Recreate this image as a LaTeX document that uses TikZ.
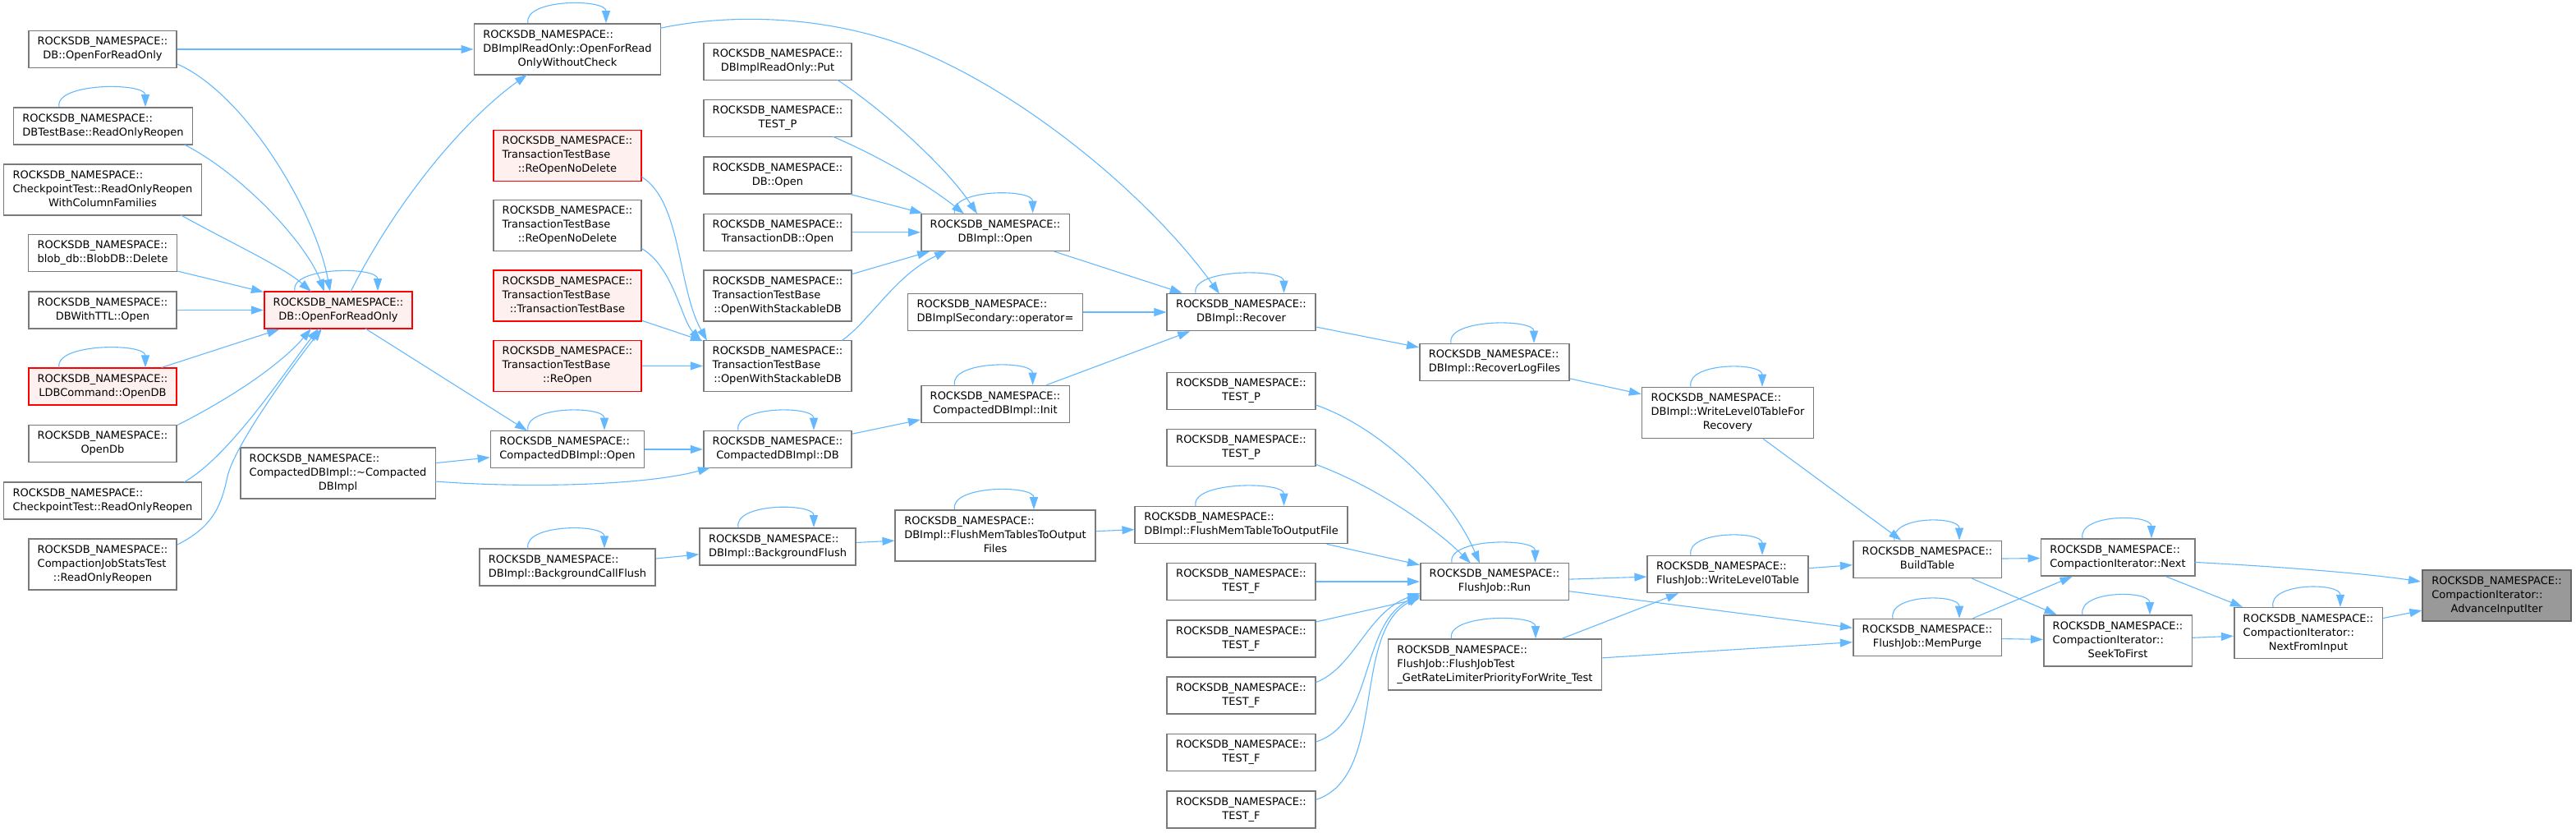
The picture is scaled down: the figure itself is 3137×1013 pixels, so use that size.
\documentclass[tikz,border=0pt]{standalone}
\usepackage{fontspec}
\setmainfont{DejaVu Sans}
\usetikzlibrary{arrows.meta}
\definecolor{edgeblue}{HTML}{63B8FF}
\definecolor{nodegray}{HTML}{7A7A7A}
\definecolor{redfill}{HTML}{FFF0F0}
\definecolor{focusfill}{HTML}{999999}
\definecolor{focusline}{HTML}{666666}
\newcommand\RN{ROCKSDB\_NAMESPACE::}
\newcommand\lbl[2]{\begin{tabular}{@{}l@{}}#1\\\multicolumn{1}{@{}c@{}}{#2}\end{tabular}}
\newcommand\selfloop[3]{\draw[conn] ([xshift=#2pt]#1.north) .. controls +(-6,-30) and +(0,-30) .. ([xshift=#3pt]#1.north);}
\begin{document}
\begin{tikzpicture}[x=1pt,y=-1pt,
  nbox/.style={draw=nodegray, line width=1.6pt, fill=white, inner xsep=11pt, inner ysep=5.5pt,
    font=\fontsize{13}{17}\selectfont},
  redbox/.style={nbox, draw=red, fill=redfill},
  focusbox/.style={nbox, draw=focusline, fill=focusfill},
  conn/.style={draw=edgeblue, line width=1.1pt, -{Triangle[length=15pt,width=10pt]}}]
\useasboundingbox (0,0) rectangle (3137,1013);

% column 0
\node[nbox] (a1) at (125,60) {\lbl{\RN}{DB::OpenForReadOnly}};
\node[nbox] (a2) at (125.5,153.5) {\lbl{\RN}{DBTestBase::ReadOnlyReopen}};
\node[nbox] (a3) at (125,230.7) {\lbl{\RN\\CheckpointTest::ReadOnlyReopen}{WithColumnFamilies}};
\node[nbox] (a4) at (125,308) {\lbl{\RN}{blob\_db::BlobDB::Delete}};
\node[nbox] (a5) at (125,377.5) {\lbl{\RN}{DBWithTTL::Open}};
\node[redbox] (a6) at (125,470.7) {\lbl{\RN}{LDBCommand::OpenDB}};
\node[nbox] (a7) at (125,540) {\lbl{\RN}{OpenDb}};
\node[nbox] (a8) at (125,609.5) {\lbl{\RN}{CheckpointTest::ReadOnlyReopen}};
\node[nbox] (a9) at (125,686.7) {\lbl{\RN\\CompactionJobStatsTest}{::ReadOnlyReopen}};
% column 1
\node[redbox] (b1) at (412,377.5) {\lbl{\RN}{DB::OpenForReadOnly}};
\node[nbox] (b2) at (411.6,576) {\lbl{\RN\\CompactedDBImpl::\textasciitilde Compacted}{DBImpl}};
% column 2
\node[nbox] (c1) at (691,60) {\lbl{\RN\\DBImplReadOnly::OpenForRead}{OnlyWithoutCheck}};
\node[redbox] (c2) at (691,189.3) {\lbl{\RN\\TransactionTestBase}{::ReOpenNoDelete}};
\node[nbox] (c3) at (691,274.5) {\lbl{\RN\\TransactionTestBase}{::ReOpenNoDelete}};
\node[redbox] (c4) at (691,360) {\lbl{\RN\\TransactionTestBase}{::TransactionTestBase}};
\node[redbox] (c5) at (691,445.3) {\lbl{\RN\\TransactionTestBase}{::ReOpen}};
\node[nbox] (c6) at (691,547) {\lbl{\RN}{CompactedDBImpl::Open}};
\node[nbox] (c7) at (691,690.7) {\lbl{\RN}{DBImpl::BackgroundCallFlush}};
% column 3
\node[nbox] (d1) at (947,74.8) {\lbl{\RN}{DBImplReadOnly::Put}};
\node[nbox] (d2) at (947,144) {\lbl{\RN}{TEST\_P}};
\node[nbox] (d3) at (947,213.3) {\lbl{\RN}{DB::Open}};
\node[nbox] (d4) at (947,282.8) {\lbl{\RN}{TransactionDB::Open}};
\node[nbox] (d5) at (947,360) {\lbl{\RN\\TransactionTestBase}{::OpenWithStackableDB}};
\node[nbox] (d6) at (947,445.5) {\lbl{\RN\\TransactionTestBase}{::OpenWithStackableDB}};
\node[nbox] (d7) at (947,547) {\lbl{\RN}{CompactedDBImpl::DB}};
\node[nbox] (d8) at (947,665.3) {\lbl{\RN}{DBImpl::BackgroundFlush}};
% column 4
\node[nbox] (e1) at (1212,282.8) {\lbl{\RN}{DBImpl::Open}};
\node[nbox] (e2) at (1212,380) {\lbl{\RN}{DBImplSecondary::operator=}};
\node[nbox] (e3) at (1212,492) {\lbl{\RN}{CompactedDBImpl::Init}};
\node[nbox] (e4) at (1212,652) {\lbl{\RN\\DBImpl::FlushMemTablesToOutput}{Files}};
% column 5
\node[nbox] (f1) at (1511.5,380) {\lbl{\RN}{DBImpl::Recover}};
\node[nbox] (f2) at (1511.5,476) {\lbl{\RN}{TEST\_P}};
\node[nbox] (f3) at (1511.5,545) {\lbl{\RN}{TEST\_P}};
\node[nbox] (f4) at (1511.5,639) {\lbl{\RN}{DBImpl::FlushMemTableToOutputFile}};
\node[nbox] (f5) at (1511.5,708) {\lbl{\RN}{TEST\_F}};
\node[nbox] (f6) at (1511.5,777.5) {\lbl{\RN}{TEST\_F}};
\node[nbox] (f7) at (1511.5,846.7) {\lbl{\RN}{TEST\_F}};
\node[nbox] (f8) at (1511.5,916) {\lbl{\RN}{TEST\_F}};
\node[nbox] (f9) at (1511.5,985.5) {\lbl{\RN}{TEST\_F}};
% column 6
\node[nbox] (g1) at (1820,441) {\lbl{\RN}{DBImpl::RecoverLogFiles}};
\node[nbox] (g2) at (1820,708) {\lbl{\RN}{FlushJob::Run}};
\node[nbox] (g3) at (1820.5,809) {\lbl{\RN\\FlushJob::FlushJobTest}{\_GetRateLimiterPriorityForWrite\_Test}};
% column 7
\node[nbox] (h1) at (2104,502.5) {\lbl{\RN\\DBImpl::WriteLevel0TableFor}{Recovery}};
\node[nbox] (h2) at (2104,699) {\lbl{\RN}{FlushJob::WriteLevel0Table}};
% column 8
\node[nbox] (i1) at (2347,681) {\lbl{\RN}{BuildTable}};
\node[nbox] (i2) at (2347,776) {\lbl{\RN}{FlushJob::MemPurge}};
% column 9
\node[nbox] (j1) at (2579,678.5) {\lbl{\RN}{CompactionIterator::Next}};
\node[nbox] (j2) at (2579,780) {\lbl{\RN\\CompactionIterator::}{SeekToFirst}};
% column 10, 11
\node[nbox] (k1) at (2811,770.6) {\lbl{\RN\\CompactionIterator::}{NextFromInput}};
\node[focusbox] (l1) at (3040.5,725) {\lbl{\RN\\CompactionIterator::}{AdvanceInputIter}};

% edges into DB::OpenForReadOnly (red)
\draw[conn] (a1) -- (c1);
\draw[conn] ([shift={(91,18)}]a1.center) .. controls (300,115) and (385,260) .. ([shift={(-10,-22.5)}]b1.center);
\draw[conn] ([shift={(99,22.5)}]a2.center) .. controls (300,215) and (375,300) .. ([shift={(-17,-22.5)}]b1.center);
\draw[conn] ([shift={(95,31)}]a3.center) .. controls (280,295) and (345,325) .. ([shift={(-33,-22.5)}]b1.center);
\draw[conn] (a4) -- (b1);
\draw[conn] (a5) -- (b1);
\draw[conn] (a6) -- (b1);
\draw[conn] ([shift={(91,-22.5)}]a7.center) .. controls (290,480) and (345,440) .. ([shift={(-33,22.5)}]b1.center);
\draw[conn] ([shift={(99,-22.5)}]a8.center) .. controls (280,555) and (345,455) .. ([shift={(-24,22.5)}]b1.center);
\draw[conn] ([shift={(91,-23.7)}]a9.center) .. controls (262,640) and (270,612) .. (277,580) .. controls (285,545) and (345,460) .. ([shift={(-20,22.5)}]b1.center);

% from DB::OpenForReadOnly (red) and column 1
\draw[conn] ([shift={(15,-22.5)}]b1.center) .. controls (480,250) and (560,150) .. ([shift={(-49,30.7)}]c1.center);
\draw[conn] ([shift={(33,22.5)}]b1.center) -- ([shift={(-49,-22.7)}]c6.center);
\draw[conn] (b2) -- (c6);
\draw[conn] ([shift={(118.2,10)}]b2.center) .. controls (650,595) and (790,590) .. ([shift={(-82,22.3)}]d7.center);
\draw[conn] (c6) -- (d7);

% TransactionTestBase
\draw[conn] ([shift={(90.4,26)}]c2.center) .. controls (830,245) and (825,350) .. ([shift={(-86,-30.8)}]d6.center);
\draw[conn] ([shift={(90.4,28)}]c3.center) .. controls (820,325) and (830,390) .. ([shift={(-93,-30.8)}]d6.center);
\draw[conn] (c4) -- (d6);
\draw[conn] (c5) -- (d6);

% into DBImpl::Open
\draw[conn] ([shift={(72.7,22.5)}]d1.center) .. controls (1070,130) and (1150,200) .. ([shift={(-22,-22.5)}]e1.center);
\draw[conn] ([shift={(67.4,22.3)}]d2.center) .. controls (1070,190) and (1130,225) .. ([shift={(-38,-22.5)}]e1.center);
\draw[conn] (d3) -- (e1);
\draw[conn] (d4) -- (e1);
\draw[conn] (d5) -- (e1);
\draw[conn] ([shift={(78,-30.8)}]d6.center) .. controls (1060,390) and (1090,335) .. ([shift={(-59,22.5)}]e1.center);

% into DBImpl::Recover
\draw[conn] (e1) -- (f1);
\draw[conn] (e2) -- (f1);
\draw[conn] (e3) -- (f1);
\draw[conn] ([shift={(113,-25.7)}]c1.center) .. controls (880,18) and (1000,15) .. (1114,60) .. controls (1250,115) and (1400,240) .. ([shift={(-26.5,-22.3)}]f1.center);
\draw[conn] (d7) -- (e3);

% flush chain
\draw[conn] (c7) -- (d8);
\draw[conn] (d8) -- (e4);
\draw[conn] (e4) -- (f4);
\draw[conn] (f1) -- (g1);
\draw[conn] (g1) -- (h1);
\draw[conn] (h1) -- (i1);
\draw[conn] (f4) -- (g2);
\draw[conn] ([shift={(91,17)}]f2.center) .. controls (1680,520) and (1765,600) .. ([shift={(-18,-22.3)}]g2.center);
\draw[conn] ([shift={(91,20.4)}]f3.center) .. controls (1670,590) and (1745,640) .. ([shift={(-29,-22.3)}]g2.center);
\draw[conn] (f5) -- (g2);
\draw[conn] (f6) -- (g2);
\draw[conn] ([shift={(91,-16)}]f7.center) .. controls (1650,812) and (1665,745) .. ([shift={(-90.7,14)}]g2.center);
\draw[conn] ([shift={(91,-13)}]f8.center) .. controls (1675,880) and (1655,760) .. ([shift={(-90.7,16)}]g2.center);
\draw[conn] ([shift={(91,-12)}]f9.center) .. controls (1690,945) and (1645,770) .. ([shift={(-90.7,18)}]g2.center);
\draw[conn] (g2) -- (h2);
\draw[conn] (g2) -- (i2);
\draw[conn] (g3) -- (h2);
\draw[conn] (g3) -- (i2);
\draw[conn] (h2) -- (i1);
\draw[conn] (i1) -- (j1);
\draw[conn] (i1) -- (j2);
\draw[conn] (i2) -- (j1);
\draw[conn] (i2) -- (j2);
\draw[conn] ([shift={(93.7,5.9)}]j1.center) .. controls (2780,690) and (2880,698) .. ([shift={(-92.5,-17)}]l1.center);
\draw[conn] (j1) -- (k1);
\draw[conn] (j2) -- (k1);
\draw[conn] (k1) -- (l1);

% self loops
\selfloop{a2}{-53.5}{51.5}
\selfloop{a6}{-53}{52}
\selfloop{b1}{-53}{48}
\selfloop{c1}{-48}{47}
\selfloop{c6}{-48}{45}
\selfloop{c7}{-48}{45}
\selfloop{d7}{-48}{44}
\selfloop{d8}{-48}{44}
\selfloop{e1}{-49.5}{45.6}
\selfloop{e3}{-49.5}{45.6}
\selfloop{e4}{-49.5}{47}
\selfloop{f1}{-55.5}{52}
\selfloop{f4}{-55.5}{52}
\selfloop{g1}{-53}{48}
\selfloop{g2}{-52}{49.5}
\selfloop{g3}{-53}{49.5}
\selfloop{h1}{-45}{42}
\selfloop{h2}{-45}{42}
\selfloop{i1}{-40}{39}
\selfloop{i2}{-42}{39}
\selfloop{j1}{-43}{41}
\selfloop{j2}{-43}{39}
\selfloop{k1}{-43}{39}
\end{tikzpicture}
\end{document}
